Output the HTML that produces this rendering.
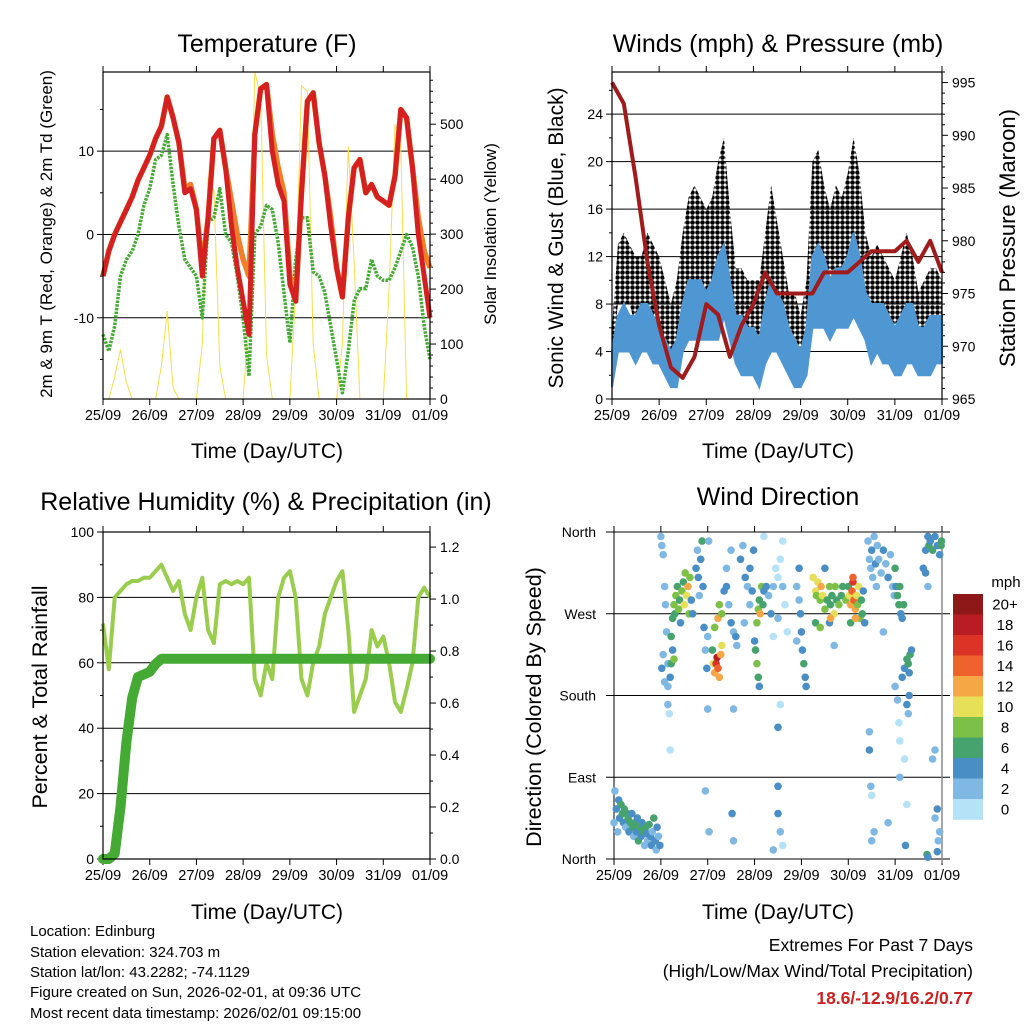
<!DOCTYPE html>
<html><head><meta charset="utf-8"><style>
html,body{margin:0;padding:0;background:#fff}
svg{display:block;font-family:"Liberation Sans",sans-serif}
</style></head><body>
<svg id="s" width="1024" height="1024" viewBox="0 0 1024 1024" xmlns="http://www.w3.org/2000/svg">
<defs>
<pattern id="dots" width="5" height="5" patternUnits="userSpaceOnUse"><circle cx="2.5" cy="2.5" r="2.3" fill="#000"/></pattern>
</defs>
<g fill="#000">
<text x="267" y="52" font-size="25" text-anchor="middle">Temperature (F)</text>
<text x="778" y="52" font-size="25" text-anchor="middle">Winds (mph) &amp; Pressure (mb)</text>
<text x="266" y="510" font-size="25" text-anchor="middle">Relative Humidity (%) &amp; Precipitation (in)</text>
<text x="778" y="505" font-size="25" text-anchor="middle">Wind Direction</text>
<text x="267" y="458" font-size="21" text-anchor="middle">Time (Day/UTC)</text>
<text x="778" y="458" font-size="21" text-anchor="middle">Time (Day/UTC)</text>
<text x="267" y="919" font-size="21" text-anchor="middle">Time (Day/UTC)</text>
<text x="778" y="919" font-size="21" text-anchor="middle">Time (Day/UTC)</text>
<text transform="translate(52,234) rotate(-90)" font-size="17" text-anchor="middle">2m &amp; 9m T (Red, Orange) &amp; 2m Td (Green)</text>
<text transform="translate(496,234) rotate(-90)" font-size="17" text-anchor="middle">Solar Insolation (Yellow)</text>
<text transform="translate(563,238) rotate(-90)" font-size="21" text-anchor="middle">Sonic Wind &amp; Gust (Blue, Black)</text>
<text transform="translate(1015,238) rotate(-90)" font-size="22" text-anchor="middle">Station Pressure (Maroon)</text>
<text transform="translate(47,697) rotate(-90)" font-size="21.5" text-anchor="middle">Percent &amp; Total Rainfall</text>
<text transform="translate(541,707) rotate(-90)" font-size="21.5" text-anchor="middle">Direction (Colored By Speed)</text>
<g font-size="15">
<text x="30" y="936">Location: Edinburg</text>
<text x="30" y="957">Station elevation: 324.703 m</text>
<text x="30" y="977">Station lat/lon: 43.2282; -74.1129</text>
<text x="30" y="997">Figure created on Sun, 2026-02-01, at 09:36 UTC</text>
<text x="30" y="1018">Most recent data timestamp: 2026/02/01 09:15:00</text>
</g>
<text x="973" y="951" font-size="17.5" text-anchor="end">Extremes For Past 7 Days</text>
<text x="973" y="977" font-size="17.5" text-anchor="end">(High/Low/Max Wind/Total Precipitation)</text>
<text x="973" y="1004" font-size="17.5" font-weight="bold" fill="#cc2222" text-anchor="end">18.6/-12.9/16.2/0.77</text>
<text x="1006" y="587" font-size="15" text-anchor="middle">mph</text>
</g>
<g id="plots"></g>
</svg>
<script>
// ---------- data ----------
const dayLabels=["25/09","26/09","27/09","28/09","29/09","30/09","31/09","01/09"];
const temp2m=[-5,-2,0,1.5,3,4.5,6.5,8, 9.5,11.5,13,16.5,14,11,5,5.5, 3,-5,2,11.5,12.5,8,1,-4, -8,-12,12,17.5,18,10,6,4, -6,-8,5,16,17,11,7,1, -4,-7.5,2,8,9,5,6,4.5, 4,3.5,7,15,14,8,0,-5, -10];
const temp9m=[-5,-2,0,1.5,3,4.5,6.5,8, 9.5,11.5,13,16.5,14,11,5.5,6, 3,-4,2,11.5,12.5,8,4,0, -3,-5,12,17.5,18,12,8,5, -5,-8,5,16,17,11,7,2, -4,-7.5,2,8,9,5,6,4.5, 4,3.5,7,15,14,8,2,-2, -4];
const dewpt=[-12,-14,-11,-5,-3,-2,0,3.5, 5.5,9,9.5,12,6,1,-3,-4, -5,-10,1.5,2,5.5,0,-1,-5, -10,-17,0,1,3.5,3,-1,-7, -13,-3,2,2,-4.5,-5,-7,-11, -15,-19,-14,-8,-6.5,-6.5,-3,-5, -5.5,-5.5,-4,-2,0,-1.5,-5,-11, -15];
const solar=[0,0,40,90,30,0,0,0, 0,0,60,160,20,0,0,0, 0,100,400,380,60,0,0,0, 0,150,595,550,80,0,0,0, 0,200,570,560,100,0,0,0, 0,100,460,250,0,0,0,0, 0,200,500,460,0,0,0,0, 0];
const tempTicks=[-10,0,10];
const solarTicks=[0,100,200,300,400,500];
const gustLo=[3,8,8,8,6,7,7,7, 6,4,3,4,7,9,9,9, 8,8,9,12,8,5,5,4, 5,4,6,9,8,6,5,3, 2,4,12,12,10,9,10,10, 10,12,10,8,6,7,7,5, 5,5,7,6,4,4,5,5, 6];
const gustHi=[6,13,14,13,12,12,14,13, 12,10,8,10,14,17,18,17, 16,17,20,22,16,11,11,10, 10,10,14,18,15,12,9,9, 7,10,20,21,18,16,18,17, 19,22,19,14,12,13,12,11, 10,12,14,12,9,10,11,11, 10];
const windLo=[1,4,4,4,3,4,4,3, 3,2,1,1,4,5,5,5, 5,5,5,7,5,3,2,2, 2,1,3,4,4,3,2,1, 1,2,6,6,6,5,6,6, 6,7,6,5,3,4,3,3, 2,2,3,3,2,2,2,3, 3];
const windHi=[4,7,8,7,7,8,8,7, 6,5,4,5,8,10,10,10, 9,10,12,13,10,7,7,6, 6,5,8,10,9,8,6,5, 4,6,12,13,12,10,11,11, 12,14,12,9,8,8,8,7, 6,7,8,8,6,6,7,7, 7];
const pressure=[995,993,986,978,972,968,967,969,974,973,969,972,974,977,975,975,975,975,977,977,977,978,979,979,979,980,978,980,977];
const windTicks=[0,4,8,12,16,20,24];
const pressTicks=[965,970,975,980,985,990,995];
const rh=[72,58,80,82,84,85,85,86, 86,88,90,86,82,85,75,70, 80,86,70,66,84,85,84,85, 84,86,55,50,60,55,80,86, 88,80,55,50,60,65,75,80, 85,88,70,45,50,55,70,65, 68,60,48,45,52,60,80,83, 80];
const precip=[0,0,0.02,0.2,0.45,0.62,0.7,0.71, 0.72,0.75,0.77,0.77,0.77,0.77,0.77,0.77, 0.77,0.77,0.77,0.77,0.77,0.77,0.77,0.77, 0.77,0.77,0.77,0.77,0.77,0.77,0.77,0.77, 0.77,0.77,0.77,0.77,0.77,0.77,0.77,0.77, 0.77,0.77,0.77,0.77,0.77,0.77,0.77,0.77, 0.77,0.77,0.77,0.77,0.77,0.77,0.77,0.77, 0.77];
const rhTicks=[0,20,40,60,80,100];
const precipTicks=[0,0.2,0.4,0.6,0.8,1.0,1.2];
const dirPts=[[0.0,40,3],[0.02,75,3],[0.05,55,4],[0.08,30,2],[0.1,65,5],[0.12,45,4],[0.15,60,6],[0.18,50,6],[0.2,40,4],[0.22,55,7],[0.25,35,3],[0.28,50,6],[0.3,45,7],[0.32,30,4],[0.35,40,6],[0.38,50,5],[0.4,35,7],[0.42,25,3],[0.45,40,6],[0.48,30,5],[0.5,45,4],[0.52,20,6],[0.55,35,7],[0.58,25,4],[0.6,40,5],[0.62,30,6],[0.65,15,3],[0.68,35,7],[0.7,28,4],[0.72,20,3],[0.75,38,6],[0.78,25,5],[0.8,15,4],[0.82,30,3],[0.85,45,7],[0.88,20,4],[0.9,10,3],[0.92,35,5],[0.95,25,3],[0.98,15,4],
[1.0,355,3],[1.02,345,2],[1.05,335,3],[1.08,300,2],[1.1,280,2],[1.12,250,2],[1.15,215,2],[1.15,190,2],[1.18,160,1],[1.2,120,1],[1.02,210,4],[1.05,225,3],[1.08,195,3],
[1.25,265,7],[1.28,280,8],[1.3,270,6],[1.32,290,9],[1.35,300,6],[1.38,275,8],[1.4,285,7],[1.42,260,5],[1.45,295,9],[1.48,305,6],[1.5,280,10],[1.52,315,8],[1.55,290,11],[1.58,300,12],[1.6,270,9],[1.62,310,8],[1.65,285,5],[1.68,270,4],[1.22,245,6],[1.25,230,5],[1.22,215,7],[1.28,220,8],[1.2,200,4],[1.15,170,2],
[1.75,320,4],[1.78,340,3],[1.8,310,4],[1.82,290,3],[1.85,330,4],[1.88,350,6],[1.9,300,4],[1.92,255,4],[1.95,230,3],[1.98,210,4],[2.0,245,3],[2.0,165,3],[2.02,350,3],[1.95,75,2],[2.03,30,2],
[2.1,230,7],[2.12,215,11],[2.15,205,13],[2.18,215,16],[2.2,222,18],[2.22,210,14],[2.25,200,13],[2.28,225,12],[2.3,235,10],[2.15,255,9],[2.22,265,12],[2.25,280,9],[2.3,270,8],[2.35,295,5],[2.4,300,4],[2.45,280,3],[2.5,260,4],[2.55,250,3],[2.6,245,4],[2.62,235,3],[2.4,320,2],[2.5,340,3],[2.55,165,3],[2.52,50,4],[2.55,20,3],
[2.7,330,4],[2.75,345,3],[2.8,310,4],[2.85,300,3],[2.9,320,4],[2.95,295,4],[2.98,340,5],[2.78,260,2],[2.9,280,2],
[3.05,260,8],[3.08,275,9],[3.1,285,7],[3.12,270,12],[3.15,300,8],[3.18,280,6],[3.2,295,5],[3.02,230,6],[3.05,215,8],[3.08,200,6],[3.1,190,5],[3.0,240,4],[3.25,300,4],[3.3,290,3],[3.35,270,4],
[3.4,300,2],[3.45,320,1],[3.5,310,1],[3.55,330,1],[3.6,300,2],[3.65,280,1],[3.7,250,1],[3.4,245,1],[3.5,265,2],[3.6,350,1],[3.2,355,1],[3.55,170,1],[3.5,80,4],[3.5,50,4],[3.55,30,2],[3.6,15,1],[3.5,145,4],[3.4,10,2],
[3.9,300,3],[3.95,285,2],[3.98,270,4],[4.0,250,4],[4.02,230,5],[4.05,215,6],[4.08,200,5],[4.1,190,4],[3.95,320,4],[3.9,240,3],
[4.25,310,11],[4.3,295,10],[4.32,290,8],[4.35,305,10],[4.4,285,9],[4.42,300,12],[4.45,290,10],[4.5,275,9],[4.55,285,7],[4.6,300,8],[4.62,280,6],[4.65,290,7],[4.7,270,11],[4.72,300,9],[4.75,285,6],[4.8,280,8],[4.85,290,7],[4.88,300,6],[4.5,320,5],[4.6,260,4],[4.7,235,3],[4.62,265,12],[4.3,260,6],[4.4,255,9],
[4.95,285,8],[5.0,300,7],[5.02,290,11],[5.05,280,13],[5.08,295,14],[5.1,305,17],[5.12,285,15],[5.15,275,12],[5.18,290,10],[5.2,280,9],[5.22,300,11],[5.25,265,8],[5.28,285,6],[5.3,270,7],[5.32,295,5],[5.35,260,4],[5.05,260,6],[5.15,265,12],[5.1,310,14],
[5.42,350,2],[5.45,330,3],[5.48,320,2],[5.5,340,4],[5.52,310,3],[5.55,355,2],[5.58,325,4],[5.6,300,3],[5.62,345,2],[5.65,330,3],[5.7,315,2],[5.75,340,4],[5.8,325,3],[5.85,310,4],[5.9,335,2],[5.95,300,3],[5.98,290,2],[5.45,120,4],[5.48,80,2],[5.5,70,1],[5.5,20,3],[5.55,30,2],[5.45,140,3],[5.75,250,2],[5.85,40,2],
[6.0,320,6],[6.02,300,5],[6.05,290,6],[6.08,280,7],[6.1,300,6],[6.12,270,5],[6.15,265,4],[6.18,280,6],[6.0,190,3],[6.05,175,2],[6.08,150,1],[6.1,130,1],[6.15,200,4],[6.2,210,4],[6.25,220,6],[6.28,215,7],[6.3,205,5],[6.32,225,6],[6.35,230,4],[6.3,180,4],[6.25,170,4],[6.28,160,3],[6.2,110,1],[6.25,60,1],[6.22,15,4],[6.1,90,2],
[6.65,340,4],[6.7,355,4],[6.72,345,6],[6.75,350,4],[6.8,340,6],[6.85,355,5],[6.9,345,4],[6.95,335,4],[6.98,345,7],[6.99,350,7],[6.6,320,5],[6.65,315,4],[6.7,300,3],[6.68,5,6],[6.7,2,4],[6.9,8,4],[6.92,20,3],[6.95,30,3],[6.85,45,2],[6.9,55,4],[6.8,110,3],[6.85,120,2]];
const dirTicks=[0,90,180,270,360];
const dirLabels=["North","East","South","West","North"];
const speedBins=["0","2","4","6","8","10","12","14","16","18","20+"];
const speedColors=["#b6e2f7","#7fb8e2","#4a8ec6","#47a36d","#7dc048","#e6df58","#f6a745","#f0622d","#dc3327","#ba1c24","#8e1718"];

// ---------- helpers ----------
const NS="http://www.w3.org/2000/svg";
const root=document.getElementById('plots');
function mk(tag,attrs,parent){const e=document.createElementNS(NS,tag);for(const k in attrs)e.setAttribute(k,attrs[k]);(parent||root).appendChild(e);return e;}
function scale(d0,d1,r0,r1){return v=>r0+(v-d0)/(d1-d0)*(r1-r0);}
const STEP=3/24;

function frame(name){
  const g=mk('g',{});
  
  
  return g;
}
function xAxis(g,x0,x1,y0,y1,top){
  const xs=scale(0,7,x0,x1);
  for(let i=0;i<dayLabels.length;i++){
    const x=xs(i);
    const t=mk('line',{x1:x,x2:x,y1:y1,y2:y1+6,stroke:'#000','stroke-width':1},g);
    
    
    if(top){mk('line',{x1:x,x2:x,y1:y0,y2:y0-6,stroke:'#000','stroke-width':1},g);}
    const l=mk('text',{x:x,y:y1+21,'font-size':14.5,'text-anchor':'middle'},g);
    l.textContent=dayLabels[i];
    
    
  }
  return xs;
}
function leftAxis(g,x0,x1,ys,ticks,fmt,grid,minor){
  ticks.forEach(v=>{
    const y=ys(v);
    mk('line',{x1:x0-6,x2:x0,y1:y,y2:y,stroke:'#000'},g);
    if(grid)mk('line',{x1:x0,x2:x1,y1:y,y2:y,stroke:'#000','stroke-width':1},g);
    const l=mk('text',{x:x0-9,y:y+5,'font-size':14,'text-anchor':'end'},g);
    l.textContent=fmt(v);
    
    
  });
  if(minor)minor.forEach(v=>mk('line',{x1:x0-3,x2:x0,y1:ys(v),y2:ys(v),stroke:'#000'},g));
}
function rightAxis(g,x1,ys,ticks,fmt,minor){
  ticks.forEach(v=>{
    const y=ys(v);
    mk('line',{x1:x1,x2:x1+6,y1:y,y2:y,stroke:'#000'},g);
    const l=mk('text',{x:x1+10,y:y+5,'font-size':14},g);
    l.textContent=fmt(v);
    
    
  });
  if(minor)minor.forEach(v=>mk('line',{x1:x1,x2:x1+3,y1:ys(v),y2:ys(v),stroke:'#000'},g));
}
function pathOf(arr,xs,ys,step){return arr.map((v,i)=>(i?'L':'M')+xs(i*step).toFixed(1)+','+ys(v).toFixed(1)).join('');}
function band(lo,hi,xs,ys){
  let d=hi.map((v,i)=>(i?'L':'M')+xs(i*STEP).toFixed(1)+','+ys(v).toFixed(1)).join('');
  for(let i=lo.length-1;i>=0;i--)d+='L'+xs(i*STEP).toFixed(1)+','+ys(lo[i]).toFixed(1);
  return d+'Z';
}

// ---------- Panel 1: temperature ----------
(function(){
  const x0=103,x1=430,y0=72,y1=399;
  const g=frame('temperature-panel');
  const ys=scale(-19.75,19.5,y1,y0), ys2=scale(0,595,y1,y0);
  const xs=xAxis(g,x0,x1,y0,y1,true);
  const minT=[];for(let v=-15;v<=15;v+=5)if(v%10)minT.push(v);
  leftAxis(g,x0,x1,ys,tempTicks,v=>String(v),true,minT);
  const minS=[];for(let v=20;v<=580;v+=20)if(v%100)minS.push(v);
  rightAxis(g,x1,ys2,solarTicks,v=>String(v),minS);
  const s=mk('path',{d:pathOf(solar,xs,ys2,STEP),fill:'none',stroke:'#f8dd4a','stroke-width':1},g);
  
  const gr=mk('path',{d:pathOf(dewpt,xs,ys,STEP),fill:'none',stroke:'#44aa33','stroke-width':3.5,'stroke-dasharray':'2.5 1.2','stroke-linejoin':'round'},g);
  
  const o=mk('path',{d:pathOf(temp9m,xs,ys,STEP),fill:'none',stroke:'#f07f2a','stroke-width':5.5,'stroke-linejoin':'round'},g);
  
  const r=mk('path',{d:pathOf(temp2m,xs,ys,STEP),fill:'none',stroke:'#d42020','stroke-width':5,'stroke-linejoin':'round'},g);
  
  mk('rect',{x:x0,y:y0,width:x1-x0,height:y1-y0,fill:'none',stroke:'#000','stroke-width':1.2},g);
})();

// ---------- Panel 2: winds ----------
(function(){
  const x0=612,x1=942,y0=72,y1=399;
  const g=frame('winds-panel');
  const ys=scale(0,27.55,y1,y0), ys2=scale(965,996,y1,y0);
  const xs=xAxis(g,x0,x1,y0,y1,true);
  leftAxis(g,x0,x1,ys,windTicks,v=>String(v),true,[2,6,10,14,18,22,26]);
  rightAxis(g,x1,ys2,pressTicks,v=>String(v),[966,967,968,969,971,972,973,974,976,977,978,979,981,982,983,984,986,987,988,989,991,992,993,994,996]);
  const gb=mk('path',{d:band(gustLo,gustHi,xs,ys),fill:'url(#dots)',stroke:'none'},g);
  
  const wb=mk('path',{d:band(windLo,windHi,xs,ys),fill:'#4f97d3',stroke:'#4f97d3','stroke-width':2},g);
  
  const p=mk('path',{d:pathOf(pressure,xs,ys2,0.25),fill:'none',stroke:'#a01c1c','stroke-width':4,'stroke-linejoin':'round'},g);
  
  mk('rect',{x:x0,y:y0,width:x1-x0,height:y1-y0,fill:'none',stroke:'#000','stroke-width':1.2},g);
})();

// ---------- Panel 3: humidity ----------
(function(){
  const x0=103,x1=430,y0=532,y1=859;
  const g=frame('humidity-panel');
  const ys=scale(0,100,y1,y0), ys2=scale(0,1.258,y1,y0);
  const xs=xAxis(g,x0,x1,y0,y1,true);
  leftAxis(g,x0,x1,ys,rhTicks,v=>String(v),true,[10,30,50,70,90]);
  rightAxis(g,x1,ys2,precipTicks,v=>v.toFixed(1),[0.1,0.3,0.5,0.7,0.9,1.1]);
  const r=mk('path',{d:pathOf(rh,xs,ys,STEP),fill:'none',stroke:'#9acd4e','stroke-width':4,'stroke-linejoin':'round'},g);
  
  const p=mk('path',{d:pathOf(precip,xs,ys2,STEP),fill:'none',stroke:'#44aa33','stroke-width':10,'stroke-linejoin':'round','stroke-linecap':'round'},g);
  
  mk('rect',{x:x0,y:y0,width:x1-x0,height:y1-y0,fill:'none',stroke:'#000','stroke-width':1.2},g);
})();

// ---------- Panel 4: wind direction ----------
(function(){
  const x0=614,x1=942,y0=532,y1=859;
  const g=frame('wind-direction-panel');
  const ys=scale(0,360,y1,y0);
  const xs=xAxis(g,x0,x1,y0,y1,true);
  dirTicks.forEach((v,i)=>{
    const y=ys(v);
    mk('line',{x1:x0-8,x2:x1+8,y1:y,y2:y,stroke:'#000','stroke-width':1},g);
    const l=mk('text',{x:x0-18,y:y+5,'font-size':14,'text-anchor':'end'},g);
    l.textContent=dirLabels[i];
    
    
  });
  mk('line',{x1:x0,x2:x0,y1:y0,y2:y1,stroke:'#000'},g);
  mk('line',{x1:x1,x2:x1,y1:y0,y2:y1+4,stroke:'#888','stroke-width':1.5},g);
  dirPts.forEach(p=>{
    const c=mk('circle',{cx:xs(p[0]).toFixed(1),cy:ys(p[1]).toFixed(1),r:3.8,fill:speedColors[Math.min(10,Math.floor(p[2]/2))]},g);
    
    
  });
  const cb=mk('g',{},g);
  
  
  const top=594,h=20.5;
  for(let i=0;i<speedBins.length;i++){
    const idx=speedBins.length-1-i;
    mk('rect',{x:953,y:top+i*h,width:30,height:h+0.3,fill:speedColors[idx]},cb);
    const l=mk('text',{x:1005,y:top+i*h+h/2+5,'font-size':15,'text-anchor':'middle'},cb);
    l.textContent=speedBins[idx];
    
    
  }
})();
</script>
</body></html>
